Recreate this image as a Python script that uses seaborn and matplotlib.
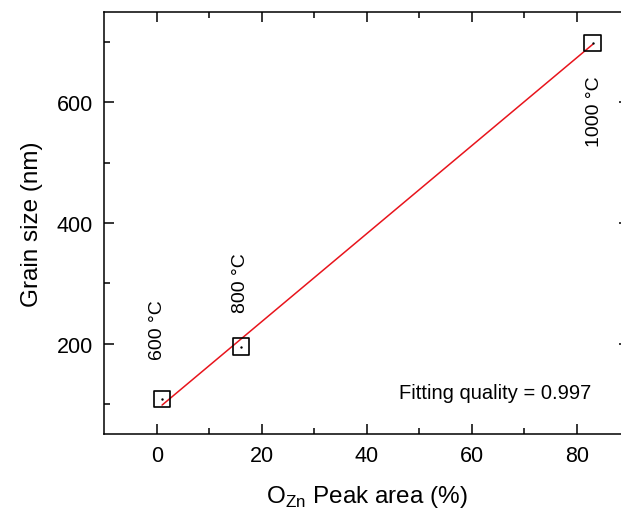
import numpy as np
import pandas as pd
import matplotlib
matplotlib.use("Agg")
import matplotlib.pyplot as plt
import seaborn as sns

# Data
peak_area = [1.0, 16.0, 83.0]          # O_Zn peak area (%)
grain_size = [108, 195, 698]           # grain size (nm)
temps = ["600 °C", "800 °C", "1000 °C"]
x_ticks = [0, 20, 40, 60, 80]
y_ticks = [200, 400, 600]
fit_note = "Fitting quality = 0.997"

sns.set_style("ticks")
plt.rcParams["font.family"] = ["Liberation Sans", "DejaVu Sans"]
plt.rcParams["text.color"] = "black"
plt.rcParams["axes.labelcolor"] = "black"
plt.rcParams["xtick.color"] = "black"
plt.rcParams["ytick.color"] = "black"
plt.rcParams["axes.edgecolor"] = "black"

fig = plt.figure(figsize=(6.21, 5.10), dpi=100)
ax = fig.add_axes([0.168, 0.147, 0.8454, 0.828])

df = pd.DataFrame({"x": peak_area, "y": grain_size})
coef = np.polyfit(df["x"], df["y"], 1)
fx = np.array([min(peak_area), max(peak_area)])
fit_df = pd.DataFrame({"x": fx, "y": np.polyval(coef, fx)})

sns.lineplot(data=fit_df, x="x", y="y", ax=ax, color="#e8141c", linewidth=1.1, zorder=2)
sns.scatterplot(data=df, x="x", y="y", ax=ax, marker="s", s=140,
                facecolor="none", edgecolor="black", linewidth=1.2, zorder=3)
sns.scatterplot(data=df, x="x", y="y", ax=ax, marker="o", s=3,
                color="black", linewidth=0, zorder=4)

# temperature labels
offsets = [(-0.9, 116), (0.0, 107), (0.4, -112)]
for (xv, yv, t, (dx, dy)) in zip(peak_area, grain_size, temps, offsets):
    ax.text(xv + dx, yv + dy, t, rotation=90, ha="center", va="center", fontsize=14)

ax.text(82.7, 119, fit_note, ha="right", va="center", fontsize=14.5)

ax.set_xlim(-10, 90)
ax.set_ylim(50, 750)
ax.set_xticks(x_ticks)
ax.set_yticks(y_ticks)
ax.set_xticks([10, 30, 50, 70], minor=True)
ax.set_yticks([100, 300, 500, 700], minor=True)
ax.tick_params(which="both", direction="in", top=True, right=True, width=1.1, labelsize=15.5, pad=8)
ax.tick_params(which="major", length=7)
ax.tick_params(which="minor", length=4)
for s in ax.spines.values():
    s.set_linewidth(1.1)
    s.set_visible(True)

ax.set_xlabel("O$_{\\mathregular{Zn}}$ Peak area (%)", fontsize=17.5, labelpad=12)
ax.set_ylabel("Grain size (nm)", fontsize=17.5, labelpad=10)

fig.savefig("out.png", dpi=100)
